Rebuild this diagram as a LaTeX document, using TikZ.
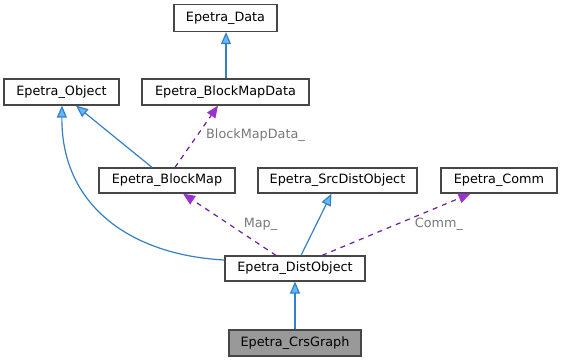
\documentclass[tikz,border=0pt]{standalone}
\usepackage{fontspec}
\setmainfont{DejaVu Sans}
\usetikzlibrary{arrows.meta}

\definecolor{boxline}{RGB}{70,70,70}
\definecolor{boxfill}{RGB}{253,254,253}
\definecolor{curfill}{RGB}{153,153,153}
\definecolor{inhline}{RGB}{52,128,196}
\definecolor{inhfill}{RGB}{99,184,255}
\definecolor{useline}{RGB}{112,28,160}
\definecolor{usefill}{RGB}{154,50,205}
\definecolor{labelgray}{RGB}{120,120,120}

\tikzset{
  cls/.style={draw=boxline, fill=boxfill, line width=1.2pt, inner sep=0pt,
              minimum height=26pt, font=\fontsize{12.8}{15}\selectfont},
  curcls/.style={cls, fill=curfill},
  inherit/.style={draw=inhline, line width=1.2pt,
                  -{Triangle[length=12pt,width=10pt,fill=inhfill]}},
  uses/.style={draw=useline, line width=1.2pt, dash pattern=on 5pt off 5pt,
               -{Triangle[length=12pt,width=10pt,fill=usefill,color=usefill]}},
  elabel/.style={text=labelgray, inner sep=0pt, font=\fontsize{12.8}{15}\selectfont}
}

\begin{document}
\begin{tikzpicture}[x=1pt, y=-1pt]
  \useasboundingbox (0,0) rectangle (562,361);

  % class boxes
  \node[cls, minimum width=103pt, minimum height=27pt] (data)     at (225.5,18)  {Epetra\_Data};
  \node[cls, minimum width=115pt] (object)   at (61.5,92)   {Epetra\_Object};
  \node[cls, minimum width=167pt] (bmdata)   at (225.5,92)  {Epetra\_BlockMapData};
  \node[cls, minimum width=136pt, minimum height=25pt] (blockmap) at (167,180.5) {Epetra\_BlockMap};
  \node[cls, minimum width=159pt, minimum height=25pt] (srcdist)  at (337.5,180.5) {Epetra\_SrcDistObject};
  \node[cls, minimum width=116pt, minimum height=25pt] (comm)     at (499,180.5) {Epetra\_Comm};
  \node[cls, minimum width=140pt, minimum height=25pt] (distobj)  at (295,268.5) {Epetra\_DistObject};
  \node[curcls, minimum width=132pt] (crs)   at (295,343)   {Epetra\_CrsGraph};

  % inheritance
  \draw[inherit] ([xshift=0.5pt]bmdata.north) -- ([xshift=0.5pt]data.south);
  \draw[inherit] ([xshift=-15pt]blockmap.north) -- ([xshift=14.5pt]object.south);
  \draw[inherit] ([yshift=8.5pt]distobj.west)
      .. controls (130,255) and (61,205) .. ([xshift=0.5pt]object.south);
  \draw[inherit] ([xshift=6pt]distobj.north) -- ([xshift=-6pt]srcdist.south);
  \draw[inherit] (crs.north) -- (distobj.south);

  % usage relations
  \draw[uses] ([xshift=8pt]blockmap.north) -- ([xshift=-7.5pt]bmdata.south);
  \draw[uses] ([xshift=-19pt]distobj.north) -- ([xshift=16pt]blockmap.south);
  \draw[uses] ([xshift=27pt]distobj.north) -- ([xshift=-28.5pt]comm.south);

  % edge labels
  \node[elabel, anchor=west] (lbmd) at (206,135.5) {BlockMapData\_};
  \node[elabel] (lmap)  at (260.5,224) {Map\_};
  \node[elabel] (lcomm) at (439,224)   {Comm\_};
\end{tikzpicture}
\end{document}
